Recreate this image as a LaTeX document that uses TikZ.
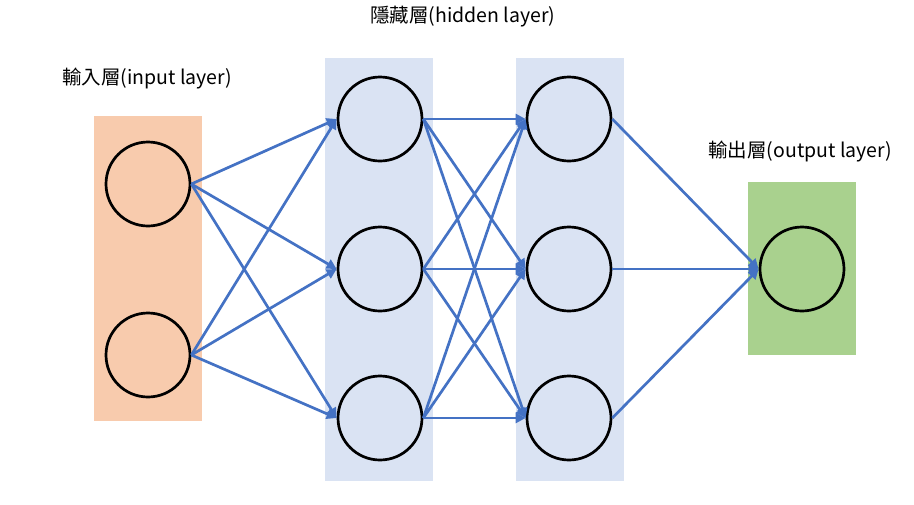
\documentclass[tikz,border=0pt]{standalone}
\usepackage{fontspec}
\newfontfamily\cjk{Noto Sans CJK TC}
\usetikzlibrary{arrows.meta}
\definecolor{inpc}{HTML}{F8CBAD}
\definecolor{hidc}{HTML}{DAE3F3}
\definecolor{outc}{HTML}{A9D18E}
\definecolor{edgec}{HTML}{4472C4}
\tikzset{
  neuron/.style={circle,draw=black,line width=2.7pt,minimum size=84pt,inner sep=0pt},
  conn/.style={draw=edgec,line width=2.7pt,-{Triangle[length=10pt,width=10pt]}},
  lbl/.style={font=\cjk\fontsize{19.5pt}{22pt}\selectfont,inner sep=0pt}
}
\begin{document}
\begin{tikzpicture}[x=1pt,y=-1pt]
\useasboundingbox (0,0) rectangle (914,504);
\fill[inpc] (94,116) rectangle (202,421);
\fill[hidc] (325,58) rectangle (433,481);
\fill[hidc] (516,58) rectangle (624,481);
\fill[outc] (748,182) rectangle (856,355);
\node[neuron] (i1) at (148,184) {};
\node[neuron] (i2) at (148,355) {};
\node[neuron] (a1) at (380,119) {};
\node[neuron] (a2) at (380,269) {};
\node[neuron] (a3) at (380,418) {};
\node[neuron] (b1) at (569,119) {};
\node[neuron] (b2) at (569,269) {};
\node[neuron] (b3) at (569,418) {};
\node[neuron] (o1) at (802,269) {};
\node[lbl] (li) at (147,79) {輸入層(input layer)};
\node[lbl] (lh) at (463,17) {隱藏層(hidden layer)};
\node[lbl] (lo) at (800,152) {輸出層(output layer)};
\foreach \s in {i1,i2}{\foreach \t in {a1,a2,a3}{\draw[conn] (\s.east) -- (\t.west);}}
\foreach \s in {a1,a2,a3}{\foreach \t in {b1,b2,b3}{\draw[conn] (\s.east) -- (\t.west);}}
\foreach \s in {b1,b2,b3}{\draw[conn] (\s.east) -- (o1.west);}
\end{tikzpicture}
\end{document}
